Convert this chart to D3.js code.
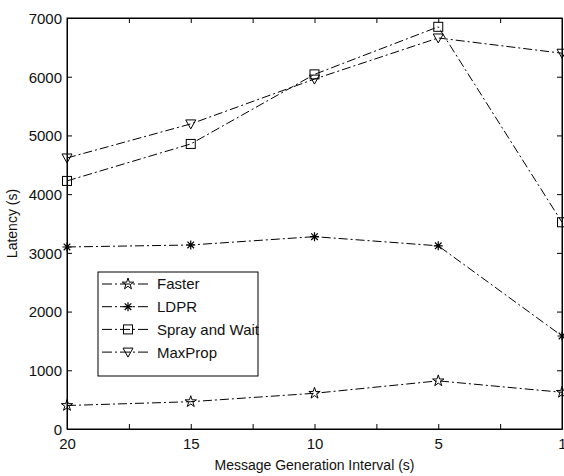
<!DOCTYPE html>
<html><head><meta charset="utf-8">
<script src="https://cdn.jsdelivr.net/npm/d3@7"></script>
<style>
html,body{margin:0;padding:0;background:#fff;}
svg{display:block;}
text{font-family:"Liberation Sans",Arial,sans-serif;fill:#111;}
</style></head><body>
<svg id="c" width="564" height="476"></svg>
<script>
const categories = ["20","15","10","5","1"];
const faster = [400, 465, 608, 820, 625];
const ldpr = [3100, 3134, 3276, 3120, 1584];
const spray = [4225, 4855, 6040, 6850, 3521];
const maxprop = [4616, 5196, 5960, 6660, 6400];
const yTicks = [0,1000,2000,3000,4000,5000,6000,7000];
const seriesNames = ["Faster","LDPR","Spray and Wait","MaxProp"];
const markers = ["star","asterisk","square","triangle"];
const seriesValues = [faster, ldpr, spray, maxprop];

const svg = d3.select("#c");
const L = 67, R = 562, T = 18, B = 429;
const x = d3.scaleLinear().domain([0, categories.length-1]).range([L, R]);
const y = d3.scaleLinear().domain([0, 7000]).range([B, T]);
const fs = 15;

// axes box
svg.append("rect").attr("x",L).attr("y",T).attr("width",R-L).attr("height",B-T)
  .attr("fill","none").attr("stroke","#000").attr("stroke-width",1);

const xTickVals = d3.range(0, categories.length-0.99, 0.5);
const tl = 5;
const xb = d3.axisBottom(x).tickValues(xTickVals).tickSizeInner(-tl).tickSizeOuter(0)
  .tickFormat(d => Number.isInteger(d) ? categories[d] : "");
const gxb = svg.append("g").attr("transform",`translate(0,${B})`).call(xb);
const xt = d3.axisTop(x).tickValues(xTickVals).tickSizeInner(-tl).tickSizeOuter(0).tickFormat("");
const gxt = svg.append("g").attr("transform",`translate(0,${T})`).call(xt);
const yl = d3.axisLeft(y).tickValues(yTicks).tickSizeInner(-tl).tickSizeOuter(0).tickFormat(d3.format("d"));
const gyl = svg.append("g").attr("transform",`translate(${L},0)`).call(yl);
const yr = d3.axisRight(y).tickValues(yTicks).tickSizeInner(-tl).tickSizeOuter(0).tickFormat("");
const gyr = svg.append("g").attr("transform",`translate(${R},0)`).call(yr);
[gxb,gxt,gyl,gyr].forEach(g=>{
  g.select(".domain").attr("stroke","#000");
  g.selectAll(".tick line").attr("stroke","#000");
  g.selectAll("text").attr("font-size",fs).attr("font-family","Liberation Sans, Arial, sans-serif").attr("fill","#111");
});
gxb.selectAll("text").attr("dy","0").attr("y",20);
gyl.selectAll("text").attr("x",-5).attr("dy","0.36em");

// axis titles
svg.append("text").attr("x",(L+R)/2).attr("y",470).attr("text-anchor","middle")
  .attr("font-size",fs-1).text("Message Generation Interval (s)");
svg.append("text").attr("transform",`translate(17,${(T+B)/2}) rotate(-90)`)
  .attr("text-anchor","middle").attr("font-size",fs-1).text("Latency (s)");

const dash = "9,3,2,3";
function drawMarker(g, type, cx, cy){
  if(type==="star"){
    g.append("path").attr("d", d3.symbol().type(d3.symbolStar).size(40)())
     .attr("transform",`translate(${cx},${cy})`).attr("fill","none").attr("stroke","#000").attr("stroke-width",1);
  } else if(type==="asterisk"){
    const r=4.5, r2=3.3;
    const p = `M${cx-r},${cy}L${cx+r},${cy}M${cx},${cy-r}L${cx},${cy+r}M${cx-r2},${cy-r2}L${cx+r2},${cy+r2}M${cx-r2},${cy+r2}L${cx+r2},${cy-r2}`;
    g.append("path").attr("d",p).attr("stroke","#000").attr("stroke-width",1.2).attr("fill","none");
  } else if(type==="square"){
    g.append("rect").attr("x",cx-4.5).attr("y",cy-4.5).attr("width",9).attr("height",9)
     .attr("fill","none").attr("stroke","#000").attr("stroke-width",1);
  } else {
    g.append("path").attr("d",`M${cx-5},${cy-4}L${cx+5},${cy-4}L${cx},${cy+5}Z`)
     .attr("fill","none").attr("stroke","#000").attr("stroke-width",1);
  }
}

const line = d3.line().x((d,i)=>x(i)).y(d=>y(d));
seriesValues.forEach((vals,k)=>{
  const g = svg.append("g");
  g.append("path").datum(vals).attr("d",line).attr("fill","none")
    .attr("stroke","#000").attr("stroke-width",1).attr("stroke-dasharray",dash);
  vals.forEach((v,i)=>drawMarker(g, markers[k], x(i), y(v)));
});

// legend
const lg = svg.append("g");
lg.append("rect").attr("x",98).attr("y",272).attr("width",160).attr("height",104)
  .attr("fill","#fff").attr("stroke","#000").attr("stroke-width",1);
const ly0 = 284, lstep = 22.7;
seriesNames.forEach((n,k)=>{
  const yy = ly0 + k*lstep;
  lg.append("line").attr("x1",102).attr("x2",150).attr("y1",yy).attr("y2",yy)
    .attr("stroke","#000").attr("stroke-width",1).attr("stroke-dasharray","10,3,2,3");
  drawMarker(lg, markers[k], 128, yy);
  lg.append("text").attr("x",157).attr("y",yy).attr("dy","0.36em").attr("font-size",fs).text(n);
});
</script>
</body></html>
